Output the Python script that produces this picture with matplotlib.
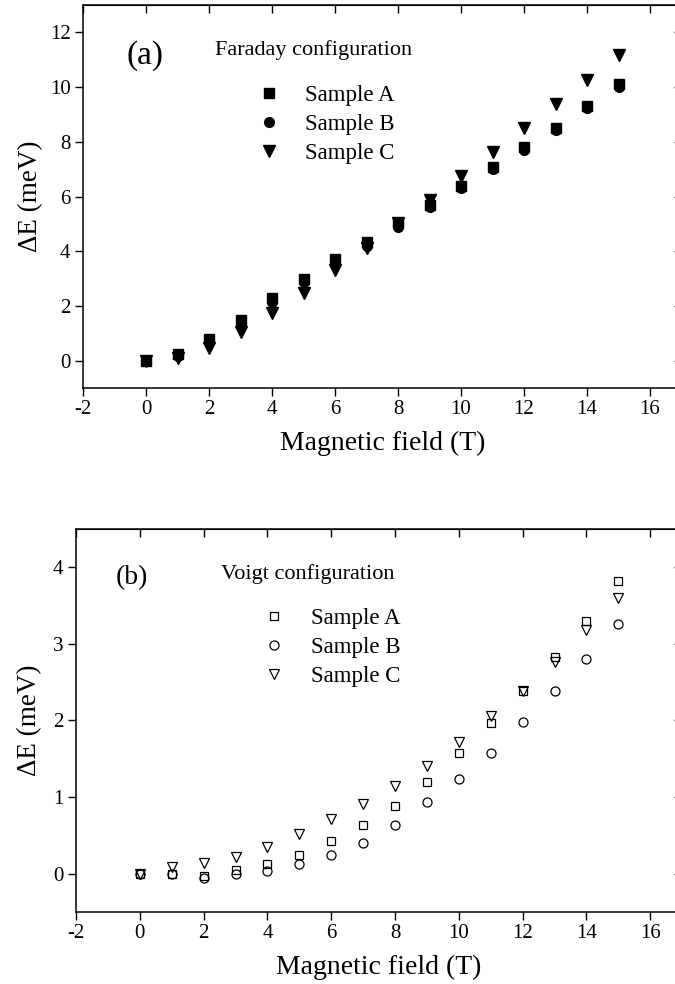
import matplotlib
matplotlib.use("Agg")
import matplotlib.pyplot as plt

plt.rcParams['font.family'] = ['Liberation Serif', 'DejaVu Serif']
plt.rcParams['axes.unicode_minus'] = False

field = [0, 1, 2, 3, 4, 5, 6, 7, 8, 9, 10, 11, 12, 13, 14, 15]

# Faraday configuration (meV)
faraday_a = [0.0, 0.25, 0.8, 1.48, 2.28, 3.0, 3.72, 4.33, 5.03, 5.7, 6.4, 7.08, 7.82, 8.52, 9.3, 10.12]
faraday_b = [0.0, 0.18, 0.7, 1.42, 2.15, 2.88, 3.55, 4.18, 4.9, 5.6, 6.3, 6.99, 7.7, 8.43, 9.22, 10.01]
faraday_c = [0.0, 0.08, 0.48, 1.06, 1.73, 2.46, 3.31, 4.1, 5.02, 5.88, 6.75, 7.64, 8.52, 9.38, 10.26, 11.17]

# Voigt configuration (meV)
voigt_a = [0.0, -0.01, -0.03, 0.05, 0.13, 0.25, 0.43, 0.63, 0.89, 1.2, 1.58, 1.97, 2.38, 2.83, 3.3, 3.82]
voigt_b = [0.0, 0.0, -0.05, 0.0, 0.03, 0.12, 0.24, 0.4, 0.64, 0.93, 1.23, 1.58, 1.98, 2.38, 2.8, 3.26]
voigt_c = [0.0, 0.09, 0.14, 0.22, 0.35, 0.52, 0.71, 0.91, 1.15, 1.41, 1.72, 2.06, 2.38, 2.77, 3.18, 3.6]

labels = ["Sample A", "Sample B", "Sample C"]
x_ticks = [-2, 0, 2, 4, 6, 8, 10, 12, 14, 16]


def style_axes(ax, yticks, ylab_x):
    for s in ax.spines.values():
        s.set_linewidth(1.1)
    ax.set_xlim(-2, 17)
    ax.set_xticks(x_ticks)
    ax.set_yticks(yticks)
    # left / bottom ticks outward, top / right inward
    ax.tick_params(axis='both', which='major', labelsize=15, length=6, width=1.0,
                   pad=3, direction='out', top=False, right=False)
    top = ax.secondary_xaxis('top')
    top.set_xticks(x_ticks)
    top.tick_params(direction='in', length=6, width=1.0, labeltop=False)
    right = ax.secondary_yaxis('right')
    right.set_yticks(yticks)
    right.tick_params(direction='in', length=6, width=1.0, labelright=False)
    ax.set_xlabel("Magnetic field (T)", fontsize=20)
    ax.xaxis.set_label_coords(0.5, -0.112)
    ax.set_ylabel("ΔE (meV)", fontsize=19.5)
    ax.yaxis.set_label_coords(ylab_x, 0.5)


fig = plt.figure(figsize=(6.75, 9.84), dpi=100)

ax1 = fig.add_axes([0.123, 0.6057, 0.8867, 0.3892])
ax1.plot(field, faraday_a, ls='none', marker='s', ms=7, color='black', label=labels[0])
ax1.plot(field, faraday_b, ls='none', marker='o', ms=7, color='black', label=labels[1])
ax1.plot(field, faraday_c, ls='none', marker='v', ms=8, color='black', label=labels[2])
ax1.set_ylim(-1, 13)
style_axes(ax1, [0, 2, 4, 6, 8, 10, 12], -0.067)
ax1.text(-0.03, 11.16, "(a)", fontsize=24, ha='center', va='center')
ax1.text(2.2, 11.34, "Faraday configuration", fontsize=16, ha='left', va='center')
ax1.legend(loc='upper left', bbox_to_anchor=(0.280, 0.815), frameon=False, fontsize=16.5,
           handlelength=0.8, handletextpad=1.17, labelspacing=0.345, borderaxespad=0)

ax2 = fig.add_axes([0.1126, 0.0732, 0.898, 0.3892])
ax2.plot(field, voigt_a, ls='none', marker='s', ms=6.2, mfc='none', mec='black', mew=0.9, label=labels[0])
ax2.plot(field, voigt_b, ls='none', marker='o', ms=6.5, mfc='none', mec='black', mew=0.9, label=labels[1])
ax2.plot(field, voigt_c, ls='none', marker='v', ms=7.2, mfc='none', mec='black', mew=0.9, label=labels[2])
ax2.set_ylim(-0.5, 4.5)
style_axes(ax2, [0, 1, 2, 3, 4], -0.056)
ax2.text(-0.24, 3.87, "(b)", fontsize=20, ha='center', va='center')
ax2.text(2.55, 3.91, "Voigt configuration", fontsize=16, ha='left', va='center')
ax2.legend(loc='upper left', bbox_to_anchor=(0.297, 0.817), frameon=False, fontsize=16.5,
           handlelength=0.8, handletextpad=1.2, labelspacing=0.345, borderaxespad=0)

fig.savefig("out.png", dpi=100)
